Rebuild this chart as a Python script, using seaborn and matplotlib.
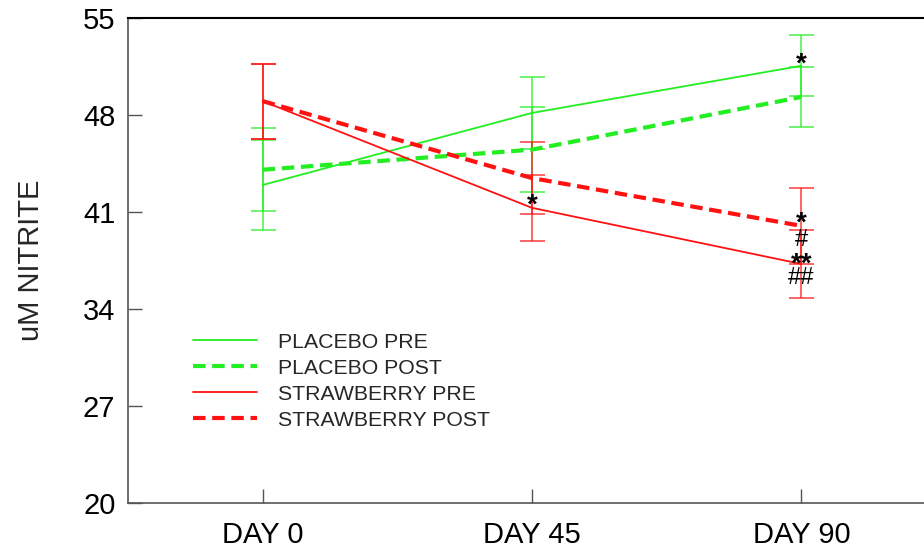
import numpy as np
import pandas as pd
import matplotlib
matplotlib.use("Agg")
import matplotlib.pyplot as plt
import seaborn as sns

days = ["DAY 0", "DAY 45", "DAY 90"]
series = ["PLACEBO PRE", "PLACEBO POST", "STRAWBERRY PRE", "STRAWBERRY POST"]
placebo_pre = [42.95, 48.15, 51.55]
placebo_post = [44.05, 45.5, 49.3]
straw_pre = [49.0, 41.3, 37.25]
straw_post = [49.0, 43.45, 40.0]
placebo_pre_err = [3.25, 2.6, 2.2]
placebo_post_err = [3.0, 3.05, 2.15]
straw_pre_err = [2.7, 2.4, 2.45]
straw_post_err = [2.7, 2.6, 2.75]
yticks = [20, 27, 34, 41, 48, 55]
annotations = [(1, 41.47, "*"), (2, 51.64, "*"), (2, 40.16, "*"), (2, 39.0, "#"),
               (2, 37.2, "**"), (2, 36.25, "##")]

sns.set_theme(style="white")
plt.rcParams["font.family"] = ["Liberation Sans", "DejaVu Sans"]

values = [placebo_pre, placebo_post, straw_pre, straw_post]
errs = [placebo_pre_err, placebo_post_err, straw_pre_err, straw_post_err]
colors = ["#22ee22", "#22ee22", "#ff1111", "#ff1111"]
dashes = [(1, 0), (3, 1.6), (1, 0), (3, 1.6)]
widths = [1.3, 3.0, 1.3, 3.0]

rows = []
for s, v in zip(series, values):
    for i, d in enumerate(days):
        rows.append({"day": i, "series": s, "value": v[i]})
df = pd.DataFrame(rows)

fig = plt.figure(figsize=(9.24, 5.53), dpi=100)
ax = fig.add_axes([128 / 924, 1 - 503 / 553, 808 / 924, 485 / 553])

for s, v, e, c in zip(series, values, errs, colors):
    ax.errorbar(range(len(days)), v, yerr=e, fmt="none", ecolor=c, alpha=0.7,
                elinewidth=1.3, capsize=9, capthick=1.3, zorder=1)

for s, c, dsh, lw in zip(series, colors, dashes, widths):
    sub = df[df["series"] == s]
    sns.lineplot(data=sub, x="day", y="value", ax=ax, color=c, linewidth=lw,
                 label=s, zorder=3)
    ln = ax.lines[-1]
    if dsh != (1, 0):
        ln.set_dashes(dsh)

for x, y, t in annotations:
    if "*" in t:
        ax.text(x, y, t, ha="center", va="center", fontsize=20, fontweight="bold",
                color="black", zorder=5)
    else:
        ax.text(x, y, t, ha="center", va="center", fontsize=17, color="black", zorder=5)

ax.set_xlim(-0.5, 2.5)
ax.set_ylim(20, 55)
ax.set_xticks(range(len(days)))
ax.set_xticklabels(days)
ax.set_yticks(yticks)
ax.set_yticklabels([str(t) for t in yticks])
ax.tick_params(axis="both", direction="in", length=10, width=1, colors="#555555",
               labelsize=21, labelcolor="black", bottom=True, left=True)
ax.tick_params(axis="x", pad=13)
ax.tick_params(axis="y", pad=9)
ax.set_xlabel("")
ax.set_ylabel("uM NITRITE", fontsize=21)
ax.yaxis.set_label_coords(-0.103, 0.5)
for sp in ["left", "bottom"]:
    ax.spines[sp].set_color("#555555")
    ax.spines[sp].set_linewidth(1.2)
ax.spines["top"].set_color("black")
ax.spines["top"].set_linewidth(1.5)
ax.spines["right"].set_visible(False)

leg = ax.legend(loc="upper left", bbox_to_anchor=(0.0805, 0.351), frameon=False,
                fontsize=15.3, handlelength=3.0, handletextpad=1.0, labelspacing=0.33,
                borderpad=0, borderaxespad=0)

fig.savefig("out.png", dpi=100, facecolor="white")
